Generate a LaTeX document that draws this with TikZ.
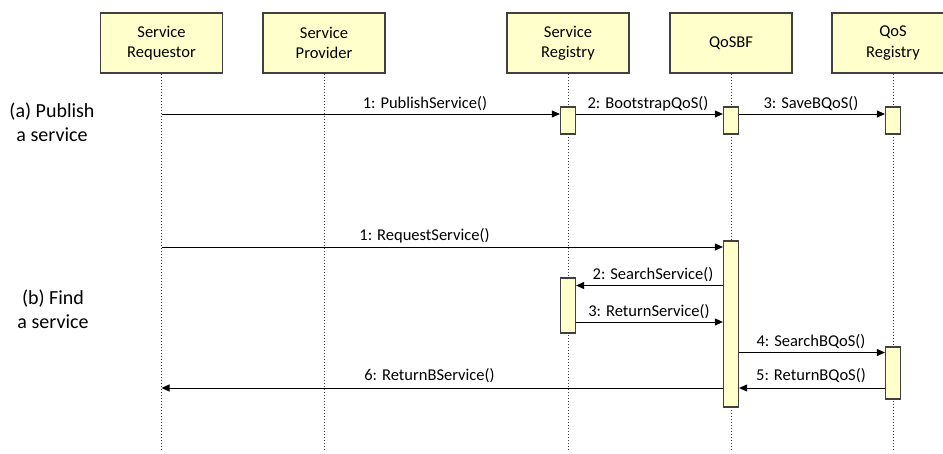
\documentclass[tikz,border=0pt]{standalone}
\usepackage{fontspec}
\setmainfont{Carlito}
\usetikzlibrary{arrows.meta}

\definecolor{boxfill}{HTML}{FFFFCC}
\definecolor{boxline}{HTML}{404040}
\definecolor{lifegray}{HTML}{404040}

\tikzset{
  head/.style={draw=boxline, line width=1.2pt, fill=boxfill, minimum width=122pt,
    minimum height=60pt, inner sep=0pt, align=center,
    font=\fontsize{16.5}{20.5}\selectfont},
  act/.style={draw=boxline, line width=1.2pt, fill=boxfill, minimum width=15pt, inner sep=0pt},
  lifeline/.style={draw=lifegray, line width=1pt, dash pattern=on 1pt off 2pt},
  msg/.style={draw=black, line width=0.9pt, -{Triangle[length=8pt,width=7pt]}},
  lbl/.style={anchor=base, inner sep=0pt, font=\fontsize{16.5}{20.5}\selectfont},
  phase/.style={anchor=base, inner sep=0pt, align=center,
    font=\fontsize{20}{24}\selectfont},
}

\begin{document}
\begin{tikzpicture}[x=1pt, y=-1pt]
\useasboundingbox (0,0) rectangle (943,453);
\clip (0,0) rectangle (943,453);
\fill[white] (0,0) rectangle (943,453);

% participants
\node[head] (req) at (161.5,43) {Service\\Requestor};
\node[head] (prov) at (324,43) {Service\\Provider};
\node[head] (reg) at (568,43) {Service\\Registry};
\node[head] (bf) at (731,43) {QoSBF};
\node[head] (qreg) at (893,43) {QoS\\Registry};

% lifeline ends
\coordinate (reqE) at (161.5,451);
\coordinate (provE) at (324,451);
\coordinate (regE) at (568,451);
\coordinate (bfE) at (731,451);
\coordinate (qregE) at (893,451);

\draw[lifeline] (req.south) -- (reqE);
\draw[lifeline] (prov.south) -- (provE);
\draw[lifeline] (reg.south) -- (regE);
\draw[lifeline] (bf.south) -- (bfE);
\draw[lifeline] (qreg.south) -- (qregE);

% phase labels (base = baseline of the last line)
\node[phase] (pa) at (52,141) {(a) Publish\\a service};
\node[phase] (pb) at (53,328) {(b) Find\\a service};

% (a) publish: activation bars
\node[act, minimum height=27pt] (aReg) at (568,120.5) {};
\node[act, minimum height=27pt] (aBf) at (731,120.5) {};
\node[act, minimum height=27pt] (aQreg) at (893,120.5) {};

\coordinate (a1) at (161.5,114);
\draw[msg] (a1) -- (aReg.west |- a1);
\draw[msg] (aReg.east |- a1) -- (aBf.west |- a1);
\draw[msg] (aBf.east |- a1) -- (aQreg.west |- a1);
\node[lbl] (la1) at (425,108) {1: PublishService()};
\node[lbl] (la2) at (648,108) {2: BootstrapQoS()};
\node[lbl] (la3) at (811,108) {3: SaveBQoS()};

% (b) find: activation bars
\node[act, minimum height=166pt] (bBf) at (731,324) {};
\node[act, minimum height=55pt] (bReg) at (568,305.5) {};
\node[act, minimum height=52pt] (bQreg) at (893,373) {};

\coordinate (b1) at (161.5,247);
\coordinate (b2) at (731,285.5);
\coordinate (b3) at (568,322);
\coordinate (b4) at (731,352.5);
\coordinate (b5) at (893,388);
\coordinate (b6) at (731,388);

\draw[msg] (b1) -- (bBf.west |- b1);
\draw[msg] (bBf.west |- b2) -- (bReg.east |- b2);
\draw[msg] (bReg.east |- b3) -- (bBf.west |- b3);
\draw[msg] (bBf.east |- b4) -- (bQreg.west |- b4);
\draw[msg] (bQreg.west |- b5) -- (bBf.east |- b5);
\draw[msg] (bBf.west |- b6) -- (req.south |- b6);

\node[lbl] (lb1) at (424.5,240) {1: RequestService()};
\node[lbl] (lb2) at (653,279.5) {2: SearchService()};
\node[lbl] (lb3) at (649,316) {3: ReturnService()};
\node[lbl] (lb4) at (811,346.5) {4: SearchBQoS()};
\node[lbl] (lb5) at (811,380) {5: ReturnBQoS()};
\node[lbl] (lb6) at (429.5,380) {6: ReturnBService()};
\end{tikzpicture}
\end{document}
